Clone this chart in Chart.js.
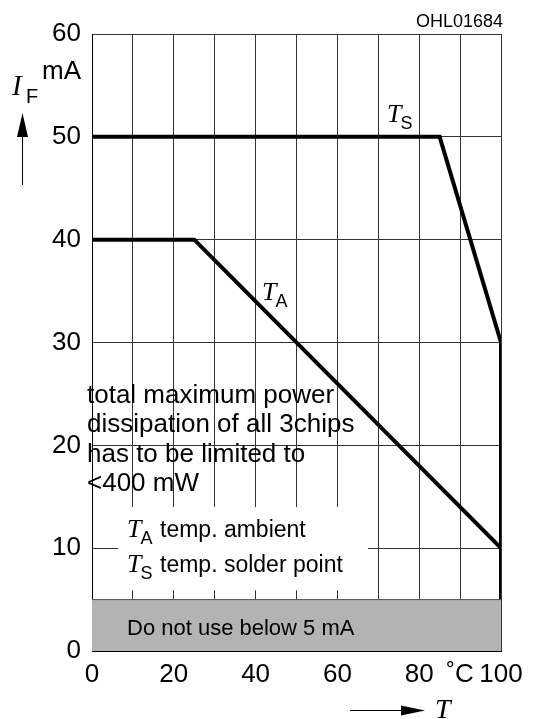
<!DOCTYPE html>
<html>
<head>
<meta charset="utf-8">
<script src="https://cdn.jsdelivr.net/npm/chart.js@4.4.1/dist/chart.umd.min.js"></script>
<style>
  html, body { margin: 0; padding: 0; background: #fff; }
</style>
</head>
<body>
<canvas id="chart" width="533" height="719"></canvas>
<script>
// forward current limits vs temperature
const tempAmbient = [0, 25, 100];
const currentAmbient = [40, 40, 10];
const tempSolder = [0, 85, 100, 100];
const currentSolder = [50, 50, 30, 0];
const limitTemp = [0, 100];
const limitCurrent = [5, 5];
const xTickLabels = ['0', '', '20', '', '40', '', '60', '', '80', '˚C', '100'];
const yTickLabels = ['0', '10', '20', '30', '40', '50', '60'];

const SANS = 'Arial, "Liberation Sans", sans-serif';
const NARROW = '"Liberation Sans Narrow", "Arial Narrow", Arial, sans-serif';
const SERIF = '"Liberation Serif", "Times New Roman", serif';

function pts(xs, ys) {
  return xs.map((v, i) => ({ x: v, y: ys[i] }));
}

function sym(ctx, main, sub, x, base, size) {
  ctx.font = 'italic ' + size + 'px ' + SERIF;
  ctx.textAlign = 'left';
  ctx.fillText(main, x, base);
  const w = ctx.measureText(main).width;
  ctx.font = Math.round(size * 0.7) + 'px ' + SANS;
  ctx.fillText(sub, x + w - 1, base + 7);
  return x + w - 1 + ctx.measureText(sub).width;
}

const notes = {
  id: 'notes',
  beforeDatasetsDraw(chart) {
    const { ctx, scales: { x, y } } = chart;
    // white patch behind the legend text
    const l = x.getPixelForValue(6.4), r = x.getPixelForValue(67.5);
    const t = y.getPixelForValue(14), b = y.getPixelForValue(5.9);
    ctx.save();
    ctx.fillStyle = '#fff';
    ctx.fillRect(l, t, r - l, b - t);
    ctx.restore();
  },
  afterDraw(chart) {
    const { ctx, chartArea } = chart;
    ctx.save();
    ctx.fillStyle = '#000';
    ctx.strokeStyle = '#000';
    ctx.textBaseline = 'alphabetic';

    ctx.font = '18px ' + SANS;
    ctx.textAlign = 'right';
    ctx.fillText('OHL01684', chartArea.right + 2, 27);

    ctx.font = '26px ' + NARROW;
    ctx.fillText('mA', chartArea.left - 11, 79);

    ctx.font = 'italic 29px ' + SERIF;
    ctx.textAlign = 'left';
    ctx.fillText('I', 12, 95);
    ctx.font = '20px ' + SANS;
    ctx.fillText('F', 26, 103);

    // up arrow
    ctx.lineWidth = 1;
    ctx.beginPath();
    ctx.moveTo(22.5, 185); ctx.lineTo(22.5, 130); ctx.stroke();
    ctx.beginPath();
    ctx.moveTo(22.5, 113); ctx.lineTo(28, 137); ctx.lineTo(17, 137); ctx.closePath(); ctx.fill();

    // right arrow
    ctx.beginPath();
    ctx.moveTo(350, 710.5); ctx.lineTo(408, 710.5); ctx.stroke();
    ctx.beginPath();
    ctx.moveTo(425, 710.5); ctx.lineTo(401, 705.5); ctx.lineTo(401, 715.5); ctx.closePath(); ctx.fill();
    ctx.font = 'italic 28px ' + SERIF;
    ctx.textAlign = 'left';
    ctx.fillText('T', 435, 718);

    sym(ctx, 'T', 'S', 387, 122, 26);
    sym(ctx, 'T', 'A', 262, 300, 26);

    ctx.font = '26px ' + SANS;
    ctx.textAlign = 'left';
    ['total maximum power', 'dissipation of all 3chips', 'has to be limited to', '<400 mW']
      .forEach((s, i) => ctx.fillText(s, 87, 403 + i * 29.3));

    sym(ctx, 'T', 'A', 127, 537, 26);
    ctx.font = '23px ' + SANS;
    ctx.fillText('temp. ambient', 160, 537);
    sym(ctx, 'T', 'S', 127, 572, 26);
    ctx.font = '23px ' + SANS;
    ctx.fillText('temp. solder point', 160, 572);

    ctx.font = '22px ' + SANS;
    ctx.fillText('Do not use below 5 mA', 127, 635);
    ctx.restore();
  }
};

const lineStyle = {
  borderColor: '#000',
  borderWidth: 4,
  pointRadius: 0,
  fill: false,
  tension: 0,
  borderJoinStyle: 'miter'
};

new Chart(document.getElementById('chart'), {
  type: 'line',
  data: {
    datasets: [
      {
        label: 'limit',
        data: pts(limitTemp, limitCurrent),
        borderColor: '#555',
        borderWidth: 1,
        backgroundColor: '#b3b3b3',
        fill: 'origin',
        pointRadius: 0
      },
      Object.assign({ label: 'TA', data: pts(tempAmbient, currentAmbient) }, lineStyle),
      Object.assign({ label: 'TS', data: pts(tempSolder, currentSolder) }, lineStyle)
    ]
  },
  options: {
    responsive: false,
    animation: false,
    layout: { padding: { left: 0, top: 34, right: 32, bottom: 0 } },
    plugins: { legend: { display: false }, tooltip: { enabled: false } },
    scales: {
      x: {
        type: 'linear',
        min: 0,
        max: 100,
        ticks: {
          stepSize: 10,
          autoSkip: false,
          maxRotation: 0,
          color: '#000',
          padding: 8,
          font: { family: NARROW, size: 26 },
          callback: v => xTickLabels[Math.round(v / 10)]
        },
        grid: { color: '#333', lineWidth: 1, drawTicks: false },
        border: { color: '#000', width: 1 },
        afterFit: s => { s.height = 68; }
      },
      y: {
        min: 0,
        max: 60,
        ticks: {
          stepSize: 10,
          color: '#000',
          padding: 11,
          font: { family: NARROW, size: 26 },
          callback: v => yTickLabels[Math.round(v / 10)]
        },
        grid: { color: '#333', lineWidth: 1, drawTicks: false },
        border: { color: '#000', width: 1 },
        afterFit: s => { s.width = 92; }
      }
    }
  },
  plugins: [notes]
});
</script>
</body>
</html>
